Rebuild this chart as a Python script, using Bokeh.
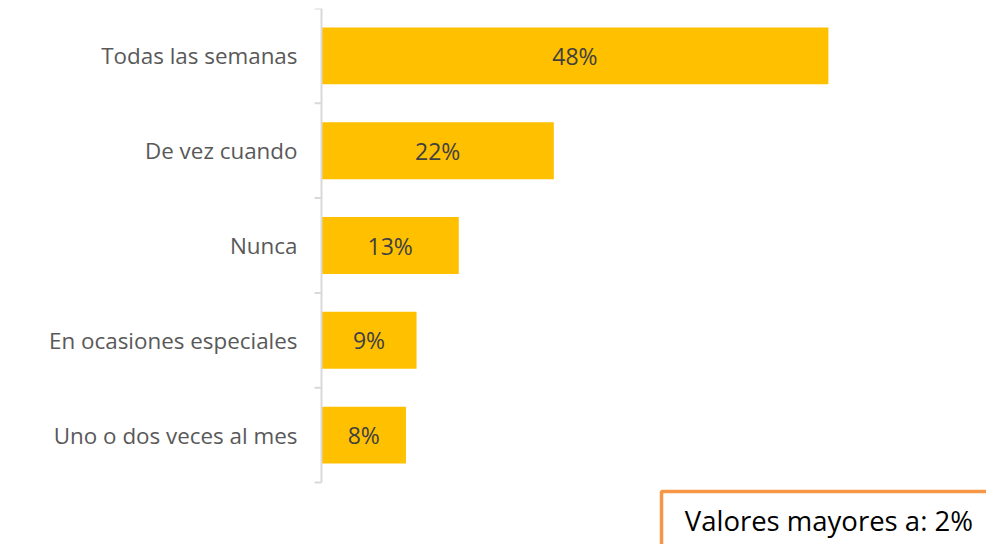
from bokeh.plotting import figure
from bokeh.models import Range1d, FixedTicker, ColumnDataSource
from bokeh.core.properties import value
from bokeh.embed import file_html
from bokeh.resources import INLINE

# ---- data ----
categories = ["Todas las semanas", "De vez cuando", "Nunca",
              "En ocasiones especiales", "Uno o dos veces al mes"]
values = [48, 22, 13, 9, 8]
value_labels = ["48%", "22%", "13%", "9%", "8%"]
note_text = "Valores mayores a: 2%"

idx = list(range(len(categories)))

FONT = "Open Sans"
BAR = "#FFC000"
AXIS = "#D9D9D9"

W, H = 986, 544
LEFT_BORDER = 313
TOP_BORDER = 8
px_per_unit = 10.56
frame_w = W - LEFT_BORDER
x_start = -8 / px_per_unit
x_end = x_start + frame_w / px_per_unit
cat_px = 94.8
y_bottom = -0.5 + (H - TOP_BORDER) / cat_px

p = figure(width=W, height=H, output_backend="svg", toolbar_location=None,
           x_range=Range1d(x_start, x_end), y_range=Range1d(y_bottom, -0.5),
           x_axis_location=None, min_border_left=LEFT_BORDER, min_border_right=0,
           min_border_top=TOP_BORDER, min_border_bottom=0)
p.outline_line_color = None
p.grid.visible = False
p.background_fill_color = "white"
p.border_fill_color = "white"

src = ColumnDataSource(dict(y=idx, v=values, mid=[v / 2 for v in values],
                            lab=value_labels))
p.hbar(y="y", left=0, right="v", height=0.6, source=src,
       fill_color=BAR, line_color=None)
p.text(x="mid", y="y", text="lab", source=src, text_align="center",
       text_baseline="middle", text_font=value(FONT), text_font_size="23px",
       text_color="#404040")

# category axis line and boundary ticks (Excel style)
n = len(categories)
bounds = [i - 0.5 for i in range(n + 1)]
p.segment(x0=[0], y0=[bounds[0]], x1=[0], y1=[bounds[-1]],
          line_color=AXIS, line_width=2)
p.segment(x0=[-0.66] * len(bounds), y0=bounds, x1=[0] * len(bounds), y1=bounds,
          line_color=AXIS, line_width=2)

ax = p.yaxis[0]
ax.ticker = FixedTicker(ticks=idx)
ax.major_label_overrides = {i: c for i, c in zip(idx, categories)}
ax.axis_line_color = None
ax.major_tick_line_color = None
ax.minor_tick_line_color = None
ax.major_tick_out = 0
ax.major_tick_in = 0
ax.major_label_standoff = 16
ax.major_label_text_font = FONT
ax.major_label_text_font_size = "22.4px"
ax.major_label_text_color = "#595959"

# note box
p.quad(left=[32.2], right=[80], top=[4.595], bottom=[7],
       fill_color="white", line_color="#F79646", line_width=3.5)
p.text(x=[34.4], y=[4.9], text=[note_text], text_font=value(FONT),
       text_font_size="27.5px", text_color="#000000", text_baseline="middle")

open("out.html", "w").write(file_html(p, INLINE))
